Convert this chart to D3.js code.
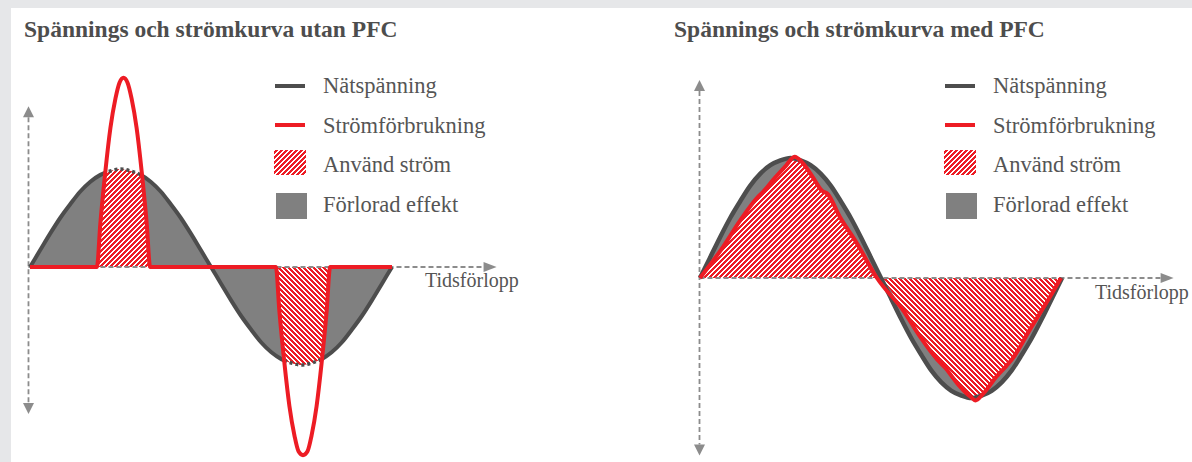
<!DOCTYPE html>
<html>
<head>
<meta charset="utf-8">
<script src="https://cdn.jsdelivr.net/npm/d3@7"></script>
<style>
body{margin:0;background:#e6e7e9;}
svg{display:block;}
svg text{font-family:"Liberation Serif","Times New Roman","DejaVu Serif","Noto Serif",Times,serif;}
</style>
</head>
<body>
<svg id="chart" width="1192" height="462"></svg>
<script>
// tid i grader (en period), värden relativt nätspänningens topp
var spanT = [0,10,20,30,40,50,60,70,80,90,100,110,120,130,140,150,160,170,180,190,200,210,220,230,240,250,260,270,280,290,300,310,320,330,340,350,360]
var spanV = [0,.17,.34,.5,.64,.77,.87,.94,.98,1,.98,.94,.87,.77,.64,.5,.34,.17,0,-.17,-.34,-.5,-.64,-.77,-.87,-.94,-.98,-1,-.98,-.94,-.87,-.77,-.64,-.5,-.34,-.17,0]

// strömförbrukning utan PFC (korta pulser)
var utanT = [0,66.5,70,75,80,85,89,93,97,101,106,111,116,119.5,244.5,248,253,258,263,267,271.5,276,280,285,290,295,298.5,360]
var utanI = [0,0,.45,.98,1.42,1.72,1.88,1.93,1.88,1.72,1.42,.98,.45,0,0,-.45,-.98,-1.42,-1.72,-1.88,-1.92,-1.88,-1.72,-1.42,-.98,-.45,0,0]

// strömförbrukning med PFC
var medT = [0,23,40,57,63,73,85,94,102,113,121,127,139,156,176,202,219,236,244,256,269,274,281,295,305,311,328,345,359]
var medI = [0,.26,.48,.67,.72,.82,.93,1.01,.96,.83,.73,.70,.51,.29,0,-.27,-.49,-.68,-.75,-.88,-.99,-1.02,-.97,-.82,-.73,-.67,-.43,-.2,0]

var titles = ["Spännings och strömkurva utan PFC","Spännings och strömkurva med PFC"]
var legendText = ["Nätspänning","Strömförbrukning","Använd ström","Förlorad effekt"]
var axisLabel = "Tidsförlopp"

var RED = "#ed1c24", DARK = "#4d4d4d", GREY = "#808080", AXIS = "#8c8c8c", TEXT = "#555555"

var svg = d3.select("#chart")
svg.append("rect").attr("x",11).attr("y",8).attr("width",1181).attr("height",454).attr("fill","#fff")

var defs = svg.append("defs")
// pixelrandigt mönster, 5px ruta, 3px rött per rad
function stripes(id, dir){
    var p = defs.append("pattern")
        .attr("id",id)
        .attr("patternUnits","userSpaceOnUse")
        .attr("width",5).attr("height",5)
    p.append("rect").attr("width",5).attr("height",5).attr("fill","#fff")
    for(var r=0;r<5;r++){
        for(var k=0;k<3;k++){
            var c = ((k - dir*r) % 5 + 5) % 5
            p.append("rect").attr("x",c).attr("y",r).attr("width",1).attr("height",1)
                .attr("fill",RED).attr("shape-rendering","crispEdges")
        }
    }
}
stripes("hatchUp",1)
stripes("hatchDown",-1)

function panel(o)
{
    var g = svg.append("g")
    var x = d3.scaleLinear().domain([0,360]).range(o.xr)
    var y = d3.scaleLinear().domain([-1,1]).range(o.yr)
    var span = spanT.map(function(t,i){ return {t:t,v:spanV[i]} })
    var cur = o.t.map(function(t,i){ return {t:t,v:o.i[i]} })

    var area = d3.area().x(function(d){return x(d.t)}).y0(y(0)).y1(function(d){return y(d.v)}).curve(d3.curveMonotoneX)
    var line = d3.line().x(function(d){return x(d.t)}).y(function(d){return y(d.v)}).curve(d3.curveMonotoneX)
    var areaPos = d3.area().x(function(d){return x(d.t)}).y0(y(0)).y1(function(d){return y(Math.max(d.v,0))}).curve(d3.curveMonotoneX)
    var areaNeg = d3.area().x(function(d){return x(d.t)}).y0(y(0)).y1(function(d){return y(Math.min(d.v,0))}).curve(d3.curveMonotoneX)

    defs.append("clipPath").attr("id",o.id+"-span").append("path").attr("d",area(span))
    defs.append("clipPath").attr("id",o.id+"-cur").append("path").attr("d",area(cur))
    var m = defs.append("mask").attr("id",o.id+"-mask").attr("maskUnits","userSpaceOnUse")
        .attr("x",0).attr("y",0).attr("width",1192).attr("height",462)
    m.append("rect").attr("width",1192).attr("height",462).attr("fill","#fff")
    m.append("path").attr("d",area(cur)).attr("fill","#000")

    // förlorad effekt
    g.append("path").attr("d",area(span)).attr("fill",GREY)
    // använd ström
    g.append("path").attr("d",areaPos(cur)).attr("fill","url(#hatchUp)").attr("clip-path","url(#"+o.id+"-span)")
    g.append("path").attr("d",areaNeg(cur)).attr("fill","url(#hatchDown)").attr("clip-path","url(#"+o.id+"-span)")

    // axlar
    var ax = x(o.axisT), zy = y(0)
    var top = y(o.yTop), bot = y(o.yBot), right = x(o.xEnd)
    g.append("line").attr("x1",ax).attr("x2",ax).attr("y1",top+11).attr("y2",bot-11)
        .attr("stroke",AXIS).attr("stroke-width",1.8).attr("stroke-dasharray","5,3")
    g.append("line").attr("x1",ax).attr("x2",right-12).attr("y1",zy).attr("y2",zy)
        .attr("stroke",AXIS).attr("stroke-width",1.8).attr("stroke-dasharray","5,3")
    g.append("path").attr("d","M"+ax+","+top+"L"+(ax-5.5)+","+(top+11)+"L"+(ax+5.5)+","+(top+11)+"Z").attr("fill",AXIS)
    g.append("path").attr("d","M"+ax+","+bot+"L"+(ax-5.5)+","+(bot-11)+"L"+(ax+5.5)+","+(bot-11)+"Z").attr("fill",AXIS)
    g.append("path").attr("d","M"+right+","+zy+"L"+(right-13)+","+(zy-5)+"L"+(right-13)+","+(zy+5)+"Z").attr("fill",AXIS)
    g.append("text").attr("x",o.labelX).attr("y",zy+o.labelDy).text(axisLabel)
        .attr("font-size",20).attr("fill",TEXT)

    // nätspänning
    var vl = g.append("path").attr("d",line(span)).attr("fill","none")
        .attr("stroke",DARK).attr("stroke-width",o.vw)
    if(o.dashTop){
        vl.attr("mask","url(#"+o.id+"-mask)")
        g.append("path").attr("d",line(span)).attr("fill","none")
            .attr("stroke",DARK).attr("stroke-width",3.5).attr("stroke-dasharray","3,3")
            .attr("clip-path","url(#"+o.id+"-cur)")
    }
    // strömförbrukning
    g.append("path").attr("d",line(cur)).attr("fill","none")
        .attr("stroke",RED).attr("stroke-width",4).attr("stroke-linejoin","round")

    // titel
    g.append("text").attr("x",o.titleX).attr("y",37).text(o.title)
        .attr("font-weight","bold").attr("font-size",23.5).attr("fill",DARK)

    // teckenförklaring
    var lx = o.legendX
    g.append("line").attr("x1",lx).attr("x2",lx+30).attr("y1",86).attr("y2",86).attr("stroke",DARK).attr("stroke-width",4)
    g.append("line").attr("x1",lx).attr("x2",lx+30).attr("y1",125).attr("y2",125).attr("stroke",RED).attr("stroke-width",4)
    g.append("rect").attr("x",lx-1).attr("y",150).attr("width",32).attr("height",25).attr("fill","url(#hatchUp)")
    g.append("rect").attr("x",lx+1).attr("y",193).attr("width",31).attr("height",26).attr("fill",GREY)
    var ly = [93,133,172,212]
    g.selectAll("text.leg").data(legendText).enter().append("text").attr("class","leg")
        .attr("x",lx+48).attr("y",function(d,i){return ly[i]}).text(function(d){return d})
        .attr("font-size",22.5).attr("fill",TEXT)
}

panel({id:"utan", title:titles[0], titleX:24, legendX:275,
    xr:[30,392], yr:[365,169], t:utanT, i:utanI, vw:4,
    axisT:-1.5, yTop:1.64, yBot:-1.5, xEnd:464, labelX:425, labelDy:20, dashTop:true})
panel({id:"med", title:titles[1], titleX:674, legendX:945,
    xr:[700,1062], yr:[398,158], t:medT, i:medI, vw:4.5,
    axisT:-0.5, yTop:1.65, yBot:-1.48, xEnd:471, labelX:1095, labelDy:21, dashTop:false})
</script>
</body>
</html>
